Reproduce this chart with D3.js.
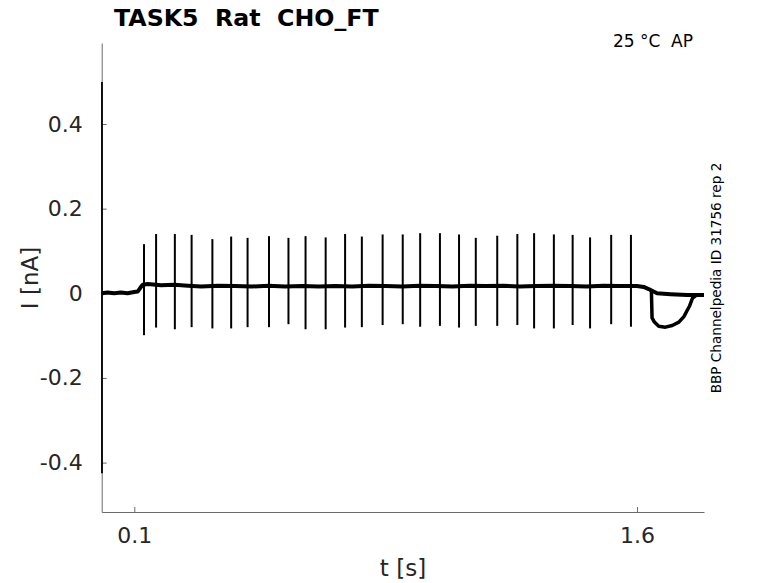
<!DOCTYPE html>
<html>
<head>
<meta charset="utf-8">
<script src="https://cdn.jsdelivr.net/npm/d3@7/dist/d3.min.js"></script>
<style>
  body { margin: 0; background: #fff; }
  svg { display: block; font-family: "DejaVu Sans", sans-serif; }
  text { white-space: pre; }
</style>
</head>
<body>
<svg id="chart" width="778" height="583"></svg>
<script>
// ---- Data ----
const titleText = "TASK5  Rat  CHO_FT";
const condText = "25 °C  AP";
const sideText = "BBP Channelpedia ID 31756 rep 2";

const xTicks = [0.1, 1.6];
const xTickLabels = ["0.1", "1.6"];
const yTicks = [-0.4, -0.2, 0, 0.2, 0.4];
const yTickLabels = ["-0.4", "-0.2", "0", "0.2", "0.4"];

// initial capacitive transient
const transientT = [0.0035];
const transientPeak = [0.499];
const transientTrough = [-0.425];

// baseline of the trace (s, nA)
const baseT = [0.004, 0.02, 0.04, 0.06, 0.08, 0.1, 0.11, 0.118, 0.125, 0.14, 0.18, 0.22, 0.26, 0.3, 0.35, 0.4, 0.45, 0.5, 0.55, 0.6, 0.65, 0.7, 0.75, 0.8, 0.85, 0.9, 0.95, 1.0, 1.05, 1.1, 1.15, 1.2, 1.25, 1.3, 1.35, 1.4, 1.45, 1.5, 1.55, 1.6, 1.62, 1.635, 1.645, 1.66, 1.7, 1.75, 1.8];
const baseI = [0.0, 0.002, 0.0, 0.002, 0.0, 0.003, 0.004, 0.013, 0.02, 0.022, 0.019, 0.02, 0.018, 0.016, 0.018, 0.017, 0.016, 0.018, 0.016, 0.017, 0.016, 0.017, 0.016, 0.018, 0.017, 0.016, 0.018, 0.017, 0.016, 0.018, 0.017, 0.018, 0.016, 0.017, 0.018, 0.017, 0.016, 0.018, 0.017, 0.017, 0.015, 0.01, 0.006, 0.0, -0.002, -0.004, -0.004];

// second sweep: dip after stimulus end
const dipT = [1.643, 1.645, 1.652, 1.665, 1.685, 1.705, 1.725, 1.74, 1.75, 1.757, 1.766, 1.775];
const dipI = [0.006, -0.058, -0.068, -0.078, -0.08, -0.076, -0.068, -0.055, -0.04, -0.03, -0.011, -0.006];

// action-potential current spikes
const spikeT = [0.129, 0.165, 0.221, 0.271, 0.333, 0.389, 0.438, 0.502, 0.560, 0.611, 0.671, 0.729, 0.779, 0.841, 0.901, 0.953, 1.012, 1.069, 1.119, 1.183, 1.243, 1.293, 1.352, 1.408, 1.460, 1.523, 1.582];
const spikePeak = [0.116, 0.140, 0.140, 0.138, 0.128, 0.134, 0.131, 0.135, 0.131, 0.135, 0.132, 0.140, 0.134, 0.139, 0.139, 0.142, 0.142, 0.139, 0.131, 0.136, 0.140, 0.142, 0.139, 0.138, 0.132, 0.138, 0.138];
const spikeTrough = [-0.099, -0.081, -0.085, -0.080, -0.083, -0.083, -0.080, -0.080, -0.073, -0.085, -0.085, -0.081, -0.080, -0.075, -0.073, -0.079, -0.077, -0.081, -0.077, -0.077, -0.075, -0.083, -0.083, -0.075, -0.083, -0.073, -0.079];

// ---- Layout ----
const svg = d3.select("#chart");
const mLeft = 101.7, mTop = 43, mRight = 704, mBottom = 512;
const axisColor = "#6b6b6b";
const textColor = "#262626";

const x = d3.scaleLinear().domain([0.0027, 1.8]).range([mLeft, mRight]);
const y = d3.scaleLinear().domain([-0.5167, 0.5913]).range([mBottom, mTop]);

// axes
const xAxis = d3.axisBottom(x).tickValues(xTicks)
  .tickFormat((d, i) => xTickLabels[i]).tickSizeInner(-5).tickSizeOuter(0).tickPadding(15);
const yAxis = d3.axisLeft(y).tickValues(yTicks)
  .tickFormat((d, i) => yTickLabels[i]).tickSizeInner(-5).tickSizeOuter(0).tickPadding(19);

const gx = svg.append("g").attr("transform", `translate(0,${mBottom})`).call(xAxis);
const gy = svg.append("g").attr("transform", `translate(${mLeft},0)`).call(yAxis);
[gx, gy].forEach(g => {
  g.select(".domain").attr("stroke", axisColor).attr("stroke-width", 1);
  g.selectAll(".tick line").attr("stroke", axisColor).attr("stroke-width", 1);
  g.selectAll(".tick text").attr("fill", textColor)
    .style("font-family", "'DejaVu Sans', sans-serif").style("font-size", "22px");
});

// data
const plot = svg.append("g");
const line = d3.line().x(d => x(d[0])).y(d => y(d[1]));

const baseData = baseT.map((t, i) => [t, baseI[i]]);
const dipData = dipT.map((t, i) => [t, dipI[i]]);

plot.append("path").datum(baseData).attr("d", line)
  .attr("fill", "none").attr("stroke", "#000").attr("stroke-width", 4)
  .attr("stroke-linejoin", "round");
plot.append("path").datum(dipData).attr("d", line)
  .attr("fill", "none").attr("stroke", "#000").attr("stroke-width", 3.5)
  .attr("stroke-linejoin", "round");

plot.selectAll("line.spike").data(spikeT).join("line")
  .attr("class", "spike")
  .attr("x1", d => x(d)).attr("x2", d => x(d))
  .attr("y1", (d, i) => y(spikePeak[i])).attr("y2", (d, i) => y(spikeTrough[i]))
  .attr("stroke", "#000").attr("stroke-width", 2);

plot.selectAll("line.transient").data(transientT).join("line")
  .attr("class", "transient")
  .attr("x1", d => x(d)).attr("x2", d => x(d))
  .attr("y1", (d, i) => y(transientPeak[i])).attr("y2", (d, i) => y(transientTrough[i]))
  .attr("stroke", "#000").attr("stroke-width", 1.8);

// texts
svg.append("text").attr("x", 114).attr("y", 26)
  .attr("xml:space", "preserve")
  .attr("fill", "#000").style("font-weight", "bold").style("font-size", "23.7px")
  .text(titleText);

svg.append("text").attr("x", 693).attr("y", 47).attr("text-anchor", "end")
  .attr("xml:space", "preserve")
  .attr("fill", "#000").style("font-size", "17px").text(condText);

svg.append("text").attr("x", 403).attr("y", 576).attr("text-anchor", "middle")
  .attr("fill", textColor).style("font-size", "23px").text("t [s]");

svg.append("text").attr("transform", "translate(38,278) rotate(-90)")
  .attr("text-anchor", "middle")
  .attr("fill", textColor).style("font-size", "23px").text("I [nA]");

svg.append("text").attr("transform", "translate(721,278) rotate(-90)")
  .attr("text-anchor", "middle")
  .attr("fill", "#000").style("font-size", "13.6px").text(sideText);
</script>
</body>
</html>
